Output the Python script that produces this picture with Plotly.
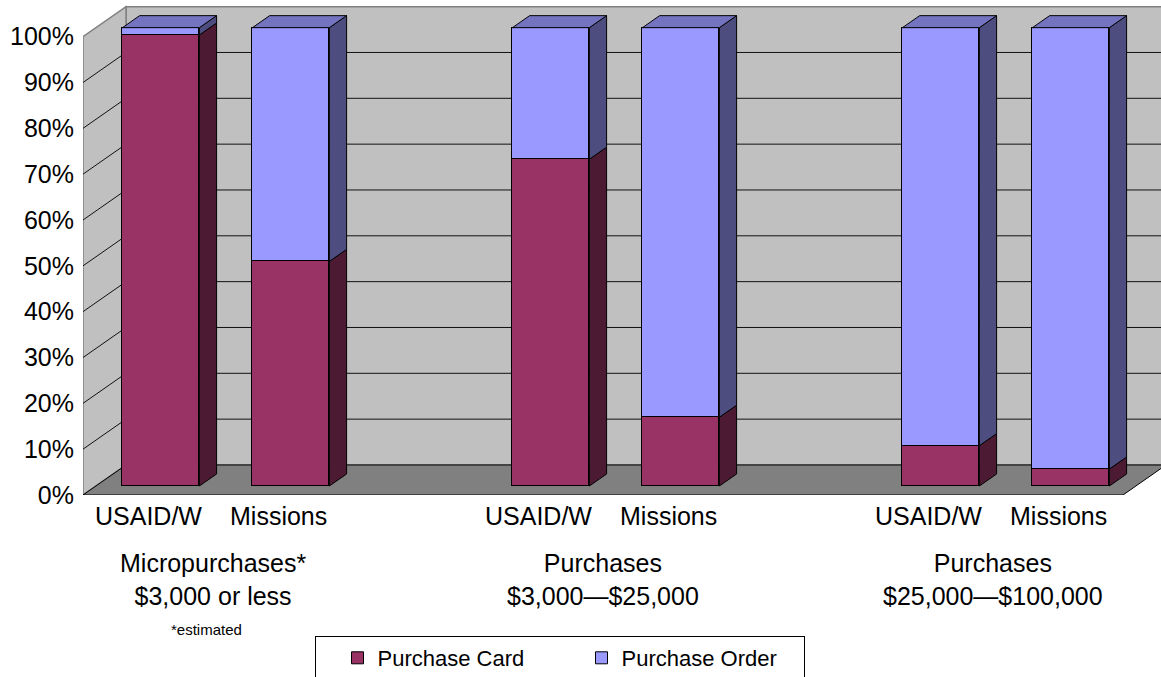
import plotly.graph_objects as go

# ---------------- data ----------------
slots = [0, 1, 3, 4, 6, 7]                      # category slots (2 and 5 are gaps)
bar_labels = ["USAID/W", "Missions", "USAID/W", "Missions", "USAID/W", "Missions"]
group_centers = [0.5, 3.5, 6.5]
group_labels = ["Micropurchases*<br>$3,000 or less",
                "Purchases<br>$3,000\u2014$25,000",
                "Purchases<br>$25,000\u2014$100,000"]
purchase_card = [98.4, 49.0, 71.3, 15.0, 8.8, 3.7]
purchase_order = [100 - v for v in purchase_card]
y_ticks = list(range(0, 101, 10))

# ---------------- styling / 3-D geometry ----------------
FONT = "Liberation Sans, Arial, sans-serif"
CARD, CARD_SIDE, CARD_TOP = "#993366", "#4D1A33", "#73264D"
ORDER, ORDER_SIDE, ORDER_TOP = "#9999FF", "#4D4D80", "#7373BF"
WALL, FLOOR = "#C0C0C0", "#808080"

XMIN, XMAX = -0.5, 7.5      # floor extent (slot units)
DX, DY = 0.331, 6.55        # full depth vector in data units
Z0, Z1 = 0.3, 0.7           # bar front / back depth fraction
BW = 0.592                  # bar width

W, H = 1161, 677
ML, MB = 83, 182
px_per_x = 130.0
px_per_y = (H - MB) / 108.0

def P(x, y, z):
    return x + (z - Z0) * DX, y + (z - Z0) * DY

x0 = P(XMIN, 0, 0)[0]
x_range = [x0, x0 + (W - ML) / px_per_x]
y0 = P(0, 0, 0)[1]
y_range = [y0, y0 + (H - MB) / px_per_y]

def path(pts):
    return "M " + " L ".join(f"{x:.4f},{y:.4f}" for x, y in pts) + " Z"

shapes = []
# back wall
shapes.append(dict(type="path", xref="x", yref="y", layer="below",
                   path=path([P(XMIN, 0, 1), P(XMAX, 0, 1), P(XMAX, 100, 1), P(XMIN, 100, 1)]),
                   fillcolor=WALL, line=dict(color="#808080", width=1.5)))
# left wall
shapes.append(dict(type="path", xref="x", yref="y", layer="below",
                   path=path([P(XMIN, 0, 0), P(XMIN, 0, 1), P(XMIN, 100, 1), P(XMIN, 100, 0)]),
                   fillcolor=WALL, line=dict(color="#808080", width=1.5)))
# gridlines
for v in y_ticks[1:-1]:
    a, b = P(XMIN, v, 1), P(XMAX, v, 1)
    shapes.append(dict(type="line", xref="x", yref="y", layer="below",
                       x0=a[0], y0=a[1], x1=b[0], y1=b[1], line=dict(color="#111111", width=1)))
    a, b = P(XMIN, v, 0), P(XMIN, v, 1)
    shapes.append(dict(type="line", xref="x", yref="y", layer="below",
                       x0=a[0], y0=a[1], x1=b[0], y1=b[1], line=dict(color="#111111", width=1)))
# floor
shapes.append(dict(type="path", xref="x", yref="y", layer="below",
                   path=path([P(XMIN, 0, 0), P(XMAX, 0, 0), P(XMAX, 0, 1), P(XMIN, 0, 1)]),
                   fillcolor=FLOOR, line=dict(color="#000000", width=1)))

fig = go.Figure()
fig.add_trace(go.Bar(x=slots, y=purchase_card, width=BW, name="Purchase Card",
                     marker=dict(color=CARD, line=dict(color="#000000", width=1)),
                     hoverinfo="skip"))
fig.add_trace(go.Bar(x=slots, y=purchase_order, width=BW, name="Purchase Order",
                     marker=dict(color=ORDER, line=dict(color="#000000", width=1)),
                     hoverinfo="skip"))

dx, dy = (Z1 - Z0) * DX, (Z1 - Z0) * DY

def poly(pts, color):
    xs = [p[0] for p in pts] + [pts[0][0]]
    ys = [p[1] for p in pts] + [pts[0][1]]
    fig.add_trace(go.Scatter(x=xs, y=ys, mode="lines", fill="toself", fillcolor=color,
                             line=dict(color="#000000", width=1), showlegend=False,
                             hoverinfo="skip"))

for s, c, o in zip(slots, purchase_card, purchase_order):
    xr = s + BW / 2
    xl = s - BW / 2
    # side faces
    poly([(xr, 0), (xr + dx, dy), (xr + dx, c + dy), (xr, c)], CARD_SIDE)
    top = c + o
    poly([(xr, c), (xr + dx, c + dy), (xr + dx, top + dy), (xr, top)], ORDER_SIDE)
    # top face
    poly([(xl, top), (xr, top), (xr + dx, top + dy), (xl + dx, top + dy)], ORDER_TOP)

def paper_y(py):
    return (H - MB - py) / (H - MB)

annotations = []
for s, lab in zip(slots, bar_labels):
    annotations.append(dict(x=s - Z0 * DX, y=paper_y(516), xref="x", yref="paper",
                            text=lab, showarrow=False, xanchor="center", yanchor="middle",
                            font=dict(family=FONT, size=25, color="#000000")))
for gc, lab in zip(group_centers, group_labels):
    annotations.append(dict(x=gc - Z0 * DX, y=paper_y(579), xref="x", yref="paper",
                            text=lab, showarrow=False, xanchor="center", yanchor="middle",
                            font=dict(family=FONT, size=25, color="#000000")))
annotations.append(dict(x=(206 - 160) / px_per_x, y=paper_y(629), xref="x", yref="paper",
                        text="*estimated", showarrow=False, xanchor="center", yanchor="middle",
                        font=dict(family=FONT, size=15, color="#000000")))

fig.update_layout(
    width=W, height=H,
    margin=dict(l=ML, r=0, t=0, b=MB, pad=0, autoexpand=False),
    paper_bgcolor="#FFFFFF", plot_bgcolor="#FFFFFF",
    barmode="stack", bargap=0,
    font=dict(family=FONT, size=25, color="#000000"),
    shapes=shapes, annotations=annotations,
    xaxis=dict(range=x_range, visible=False, fixedrange=True),
    yaxis=dict(range=y_range, showticklabels=False, showgrid=False, zeroline=False,
               showline=False, fixedrange=True),
    yaxis2=dict(range=[y_range[0] - y0, y_range[1] - y0], overlaying="y", anchor="x",
                side="left", tickvals=y_ticks, ticktext=[f"{v}%" for v in y_ticks],
                ticks="outside", ticklen=3, tickcolor="rgba(0,0,0,0)",
                showgrid=False, zeroline=False, showline=False, fixedrange=True,
                tickfont=dict(family=FONT, size=25, color="#000000")),
    legend=dict(orientation="h", x=(559.5 - ML) / (W - ML), xanchor="center",
                y=paper_y(636), yanchor="top", bordercolor="#000000", borderwidth=1,
                bgcolor="#FFFFFF", font=dict(family=FONT, size=22, color="#000000"),
                entrywidth=177, entrywidthmode="pixels", indentation=22,
                traceorder="normal"),
    showlegend=True,
)
# dummy trace for yaxis2 so it renders
fig.add_trace(go.Scatter(x=[None], y=[None], yaxis="y2", showlegend=False, hoverinfo="skip"))

fig.write_html("out.html")
